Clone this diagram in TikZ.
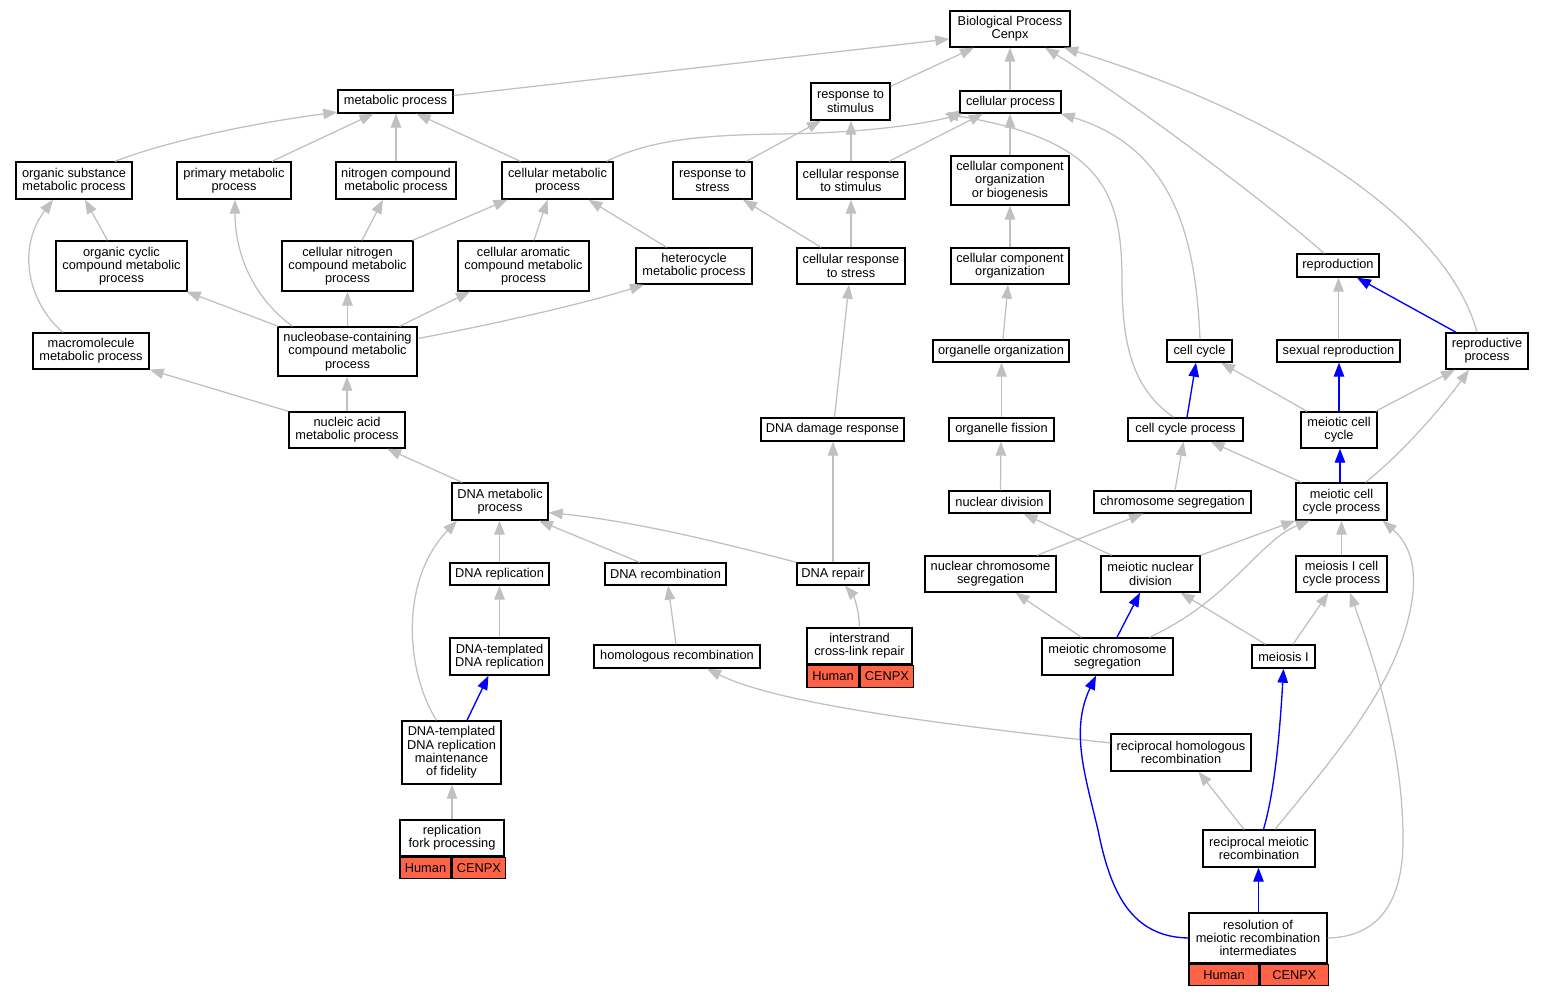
\documentclass[tikz,border=0pt]{standalone}
\usepackage{fontspec}
\setmainfont{Liberation Sans}
\usetikzlibrary{arrows.meta}
\definecolor{edgegray}{RGB}{192,192,192}
\definecolor{genered}{RGB}{255,99,71}
\definecolor{edgeblue}{RGB}{0,0,255}
\newcommand{\gofont}{\fontsize{12.8pt}{13.3pt}\selectfont}
\begin{document}
\begin{tikzpicture}[x=1pt,y=-1pt,
  box/.style={draw=black, line width=1.4pt, fill=white, inner sep=0pt, align=center, font=\gofont},
  cell/.style={box, fill=genered},
  ge/.style={draw=edgegray, line width=1.25pt, -{Triangle[length=14pt,width=10.5pt]}},
  be/.style={draw=edgeblue, line width=1.35pt, -{Triangle[length=14pt,width=10.5pt]}}
]
\fill[white] (0,0) rectangle (1543,995);
\useasboundingbox (0,0) rectangle (1543,995);

% nodes
\node[box,minimum width=120pt,minimum height=36pt] (BP) at (1010,29) {Biological Process\\Cenpx};
\node[box,minimum width=115pt,minimum height=23pt] (metab) at (395.5,101.5) {metabolic process};
\node[box,minimum width=79pt,minimum height=37pt] (respstim) at (850.5,101.5) {response to\\stimulus};
\node[box,minimum width=101pt,minimum height=22pt] (cellproc) at (1010.5,102) {cellular process};
\node[box,minimum width=116pt,minimum height=37pt] (orgsub) at (74,180.5) {organic substance\\metabolic process};
\node[box,minimum width=114pt,minimum height=37pt] (primary) at (234,180.5) {primary metabolic\\process};
\node[box,minimum width=120pt,minimum height=37pt] (nitro) at (396,180.5) {nitrogen compound\\metabolic process};
\node[box,minimum width=111pt,minimum height=37pt] (cellmet) at (557.5,180.5) {cellular metabolic\\process};
\node[box,minimum width=79pt,minimum height=37pt] (respstress) at (712.5,180.5) {response to\\stress};
\node[box,minimum width=108pt,minimum height=37pt] (crstim) at (851,180.5) {cellular response\\to stimulus};
\node[box,minimum width=118pt,minimum height=49pt] (ccob) at (1010,180.5) {cellular component\\organization\\or biogenesis};
\node[box,minimum width=131pt,minimum height=50pt] (orgcyc) at (121.5,266) {organic cyclic\\compound metabolic\\process};
\node[box,minimum width=131pt,minimum height=50pt] (cellnit) at (347.5,266) {cellular nitrogen\\compound metabolic\\process};
\node[box,minimum width=131pt,minimum height=50pt] (cellarom) at (523.5,266) {cellular aromatic\\compound metabolic\\process};
\node[box,minimum width=116pt,minimum height=36pt] (hetero) at (694,266) {heterocycle\\metabolic process};
\node[box,minimum width=108pt,minimum height=36pt] (crstress) at (851,266) {cellular response\\to stress};
\node[box,minimum width=118pt,minimum height=36pt] (cco) at (1010,266) {cellular component\\organization};
\node[box,minimum width=82pt,minimum height=23pt] (repro) at (1338,265.5) {reproduction};
\node[box,minimum width=116pt,minimum height=36pt] (macro) at (91,351) {macromolecule\\metabolic process};
\node[box,minimum width=139pt,minimum height=49pt] (nucbase) at (347.5,351.5) {nucleobase-containing\\compound metabolic\\process};
\node[box,minimum width=136pt,minimum height=22pt] (orgorg) at (1001,351) {organelle organization};
\node[box,minimum width=65pt,minimum height=22pt] (cellcyc) at (1199.5,351) {cell cycle};
\node[box,minimum width=123pt,minimum height=22pt] (sexrep) at (1338.5,351) {sexual reproduction};
\node[box,minimum width=82pt,minimum height=36pt] (reprod) at (1487,351) {reproductive\\process};
\node[box,minimum width=116pt,minimum height=36pt] (nucacid) at (347,430) {nucleic acid\\metabolic process};
\node[box,minimum width=143pt,minimum height=23pt] (dnadmg) at (832.5,429.5) {DNA damage response};
\node[box,minimum width=105pt,minimum height=23pt] (orgfis) at (1001.5,429.5) {organelle fission};
\node[box,minimum width=115pt,minimum height=23pt] (ccp) at (1185.5,429.5) {cell cycle process};
\node[box,minimum width=76pt,minimum height=36pt] (mcc) at (1339,430) {meiotic cell\\cycle};
\node[box,minimum width=96pt,minimum height=37pt] (dnamet) at (500,501.5) {DNA metabolic\\process};
\node[box,minimum width=101pt,minimum height=22pt] (nucdiv) at (999.5,502) {nuclear division};
\node[box,minimum width=157pt,minimum height=22pt] (chromseg) at (1172.5,502) {chromosome segregation};
\node[box,minimum width=91pt,minimum height=37pt] (mccp) at (1341.5,501.5) {meiotic cell\\cycle process};
\node[box,minimum width=99pt,minimum height=22pt] (dnarep) at (499.5,574) {DNA replication};
\node[box,minimum width=121pt,minimum height=22pt] (dnarec) at (665.5,574) {DNA recombination};
\node[box,minimum width=72pt,minimum height=22pt] (dnarepair) at (833,574) {DNA repair};
\node[box,minimum width=131pt,minimum height=36pt] (ncs) at (990.5,574) {nuclear chromosome\\segregation};
\node[box,minimum width=99pt,minimum height=36pt] (mnd) at (1150.5,574) {meiotic nuclear\\division};
\node[box,minimum width=91pt,minimum height=36pt] (miccp) at (1341.5,574) {meiosis I cell\\cycle process};
\node[box,minimum width=99pt,minimum height=37pt] (dtdr) at (499.5,656.5) {DNA-templated\\DNA replication};
\node[box,minimum width=166pt,minimum height=23pt] (homrec) at (677,656.5) {homologous recombination};
\node[box,minimum width=105pt,minimum height=36pt] (icl) at (859.5,646) {interstrand\\cross-link repair};
\node[cell,minimum width=52pt,minimum height=22pt,anchor=north west] (iclH) at (icl.south west) {Human};
\node[cell,minimum width=53pt,minimum height=22pt,anchor=north west] (iclC) at (iclH.north east) {CENPX};
\node[box,minimum width=131pt,minimum height=37pt] (mcs) at (1107.5,656.5) {meiotic chromosome\\segregation};
\node[box,minimum width=63pt,minimum height=23pt] (meiI) at (1283.5,656.5) {meiosis I};
\node[box,minimum width=99pt,minimum height=63pt] (dtdrmf) at (451.5,752.5) {DNA-templated\\DNA replication\\maintenance\\of fidelity};
\node[box,minimum width=140pt,minimum height=37pt] (rhr) at (1181,752.5) {reciprocal homologous\\recombination};
\node[box,minimum width=104pt,minimum height=36pt] (rfp) at (452,838) {replication\\fork processing};
\node[cell,minimum width=51pt,minimum height=21pt,anchor=north west] (rfpH) at (rfp.south west) {Human};
\node[cell,minimum width=53pt,minimum height=21pt,anchor=north west] (rfpC) at (rfpH.north east) {CENPX};
\node[box,minimum width=112pt,minimum height=37pt] (rmr) at (1259,848.5) {reciprocal meiotic\\recombination};
\node[box,minimum width=138pt,minimum height=50pt] (res) at (1258,938) {resolution of\\meiotic recombination\\intermediates};
\node[cell,minimum width=70pt,minimum height=21pt,anchor=north west] (resH) at (res.south west) {Human};
\node[cell,minimum width=68pt,minimum height=21pt,anchor=north west] (resC) at (resH.north east) {CENPX};

% edges
\draw[ge] ([yshift=6pt]metab.east) -- ([yshift=-10pt]BP.west);
\draw[ge] ([yshift=-4pt]respstim.north east) -- ([xshift=-36pt]BP.south);
\draw[ge] ([xshift=-0.5pt]cellproc.north) -- (BP.south);
\draw[ge] ([xshift=-14pt]repro.north) .. controls (1270,205) and (1130,100) .. ([xshift=35pt]BP.south);
\draw[ge] ([xshift=-10pt]reprod.north) .. controls (1450,230) and (1300,120) .. ([xshift=54pt]BP.south);
\draw[ge] ([xshift=41pt]orgsub.north) .. controls (170,140) and (260,122) .. ([yshift=1.5pt]metab.south west);
\draw[ge] ([xshift=38pt]primary.north) -- ([xshift=-22pt]metab.south);
\draw[ge] (nitro.north) -- ([xshift=0.5pt]metab.south);
\draw[ge] ([xshift=-37pt]cellmet.north) -- ([xshift=21pt]metab.south);
\draw[ge] ([xshift=49pt]cellmet.north) .. controls (650,140) and (700,135) .. (780,134) .. controls (860,133) and (920,125) .. ([xshift=-48pt]cellproc.south);
\draw[ge] ([xshift=34pt]respstress.north) -- ([xshift=-29.5pt]respstim.south);
\draw[ge] (crstim.north) -- ([xshift=0.5pt]respstim.south);
\draw[ge] ([xshift=38pt]crstim.north) -- ([xshift=-27.5pt]cellproc.south);
\draw[ge] (ccob.north) -- ([xshift=-0.5pt]cellproc.south);
\draw[ge] ([xshift=-12pt]ccp.north) .. controls (1135,390) and (1122,350) .. (1122,280) .. controls (1122,190) and (1100,140) .. ([xshift=-66pt]cellproc.south);
\draw[ge] ([xshift=0.5pt]cellcyc.north) .. controls (1196,250) and (1180,150) .. ([xshift=-1pt]cellproc.south east);
\draw[ge] ([xshift=-14pt]orgcyc.north) -- ([xshift=11pt]orgsub.south);
\draw[ge] ([xshift=-28pt]macro.north) .. controls (30,305) and (15,250) .. ([xshift=-21pt]orgsub.south);
\draw[ge] ([xshift=-55pt]nucbase.north) .. controls (250,295) and (235,250) .. ([xshift=1pt]primary.south);
\draw[ge] ([xshift=14.5pt]cellnit.north) -- ([xshift=-13pt]nitro.south);
\draw[ge] ([xshift=-1pt]cellnit.north east) -- ([xshift=-50pt]cellmet.south);
\draw[ge] ([xshift=10.5pt]cellarom.north) -- ([xshift=-10pt]cellmet.south);
\draw[ge] ([xshift=-27.5pt]hetero.north) -- ([xshift=31pt]cellmet.south);
\draw[ge] ([xshift=-30pt]crstress.north) -- ([xshift=30.5pt]respstress.south);
\draw[ge] (crstress.north) -- (crstim.south);
\draw[ge] (cco.north) -- (ccob.south);
\draw[ge] ([xshift=1pt]nucbase.north west) -- ([xshift=-1pt]orgcyc.south east);
\draw[ge] (nucbase.north) -- (cellnit.south);
\draw[ge] ([xshift=52pt]nucbase.north) -- ([xshift=-53.5pt]cellarom.south);
\draw[ge] ([yshift=13pt]nucbase.east) .. controls (480,327) and (580,305) .. ([xshift=-50pt]hetero.south);
\draw[ge] ([xshift=2pt]orgorg.north) -- ([xshift=-2pt]cco.south);
\draw[ge] (sexrep.north) -- ([xshift=0.5pt]repro.south);
\draw[be] ([xshift=-31pt]reprod.north) -- ([xshift=19pt]repro.south);
\draw[ge] (nucacid.north) -- ([xshift=-0.5pt]nucbase.south);
\draw[ge] (nucacid.north west) -- (macro.south east);
\draw[ge] ([xshift=2pt]dnadmg.north) -- ([xshift=-2pt]crstress.south);
\draw[ge] (orgfis.north) -- ([xshift=0.5pt]orgorg.south);
\draw[be] ([xshift=1.5pt]ccp.north) -- ([xshift=-3.5pt]cellcyc.south);
\draw[ge] ([xshift=-32pt]mcc.north) -- ([xshift=21.5pt]cellcyc.south);
\draw[be] (mcc.north) -- ([xshift=0.5pt]sexrep.south);
\draw[ge] ([xshift=-2pt]mcc.north east) -- ([xshift=-32pt]reprod.south);
\draw[ge] ([xshift=-38pt]dnamet.north) -- ([xshift=40pt]nucacid.south);
\draw[ge] ([xshift=1pt]nucdiv.north) -- ([xshift=-0.5pt]orgfis.south);
\draw[ge] ([xshift=2.5pt]chromseg.north) -- ([xshift=-2pt]ccp.south);
\draw[ge] ([xshift=-40pt]mccp.north) -- ([xshift=25pt]ccp.south);
\draw[be] ([xshift=-1.5pt]mccp.north) -- ([xshift=1pt]mcc.south);
\draw[ge] ([xshift=24pt]mccp.north) .. controls (1400,455) and (1440,410) .. ([xshift=-18pt]reprod.south);
\draw[ge] (dnarep.north) -- ([xshift=-0.5pt]dnamet.south);
\draw[ge] ([xshift=-26pt]dnarec.north) -- ([xshift=39pt]dnamet.south);
\draw[ge] (dnarepair.north west) .. controls (730,545) and (640,522) .. ([yshift=-11pt]dnamet.east);
\draw[ge] (dnarepair.north) -- ([xshift=0.5pt]dnadmg.south);
\draw[ge] ([xshift=46.5pt]ncs.north) -- ([xshift=-29.5pt]chromseg.south);
\draw[ge] ([xshift=-39pt]mnd.north) -- ([xshift=24pt]nucdiv.south);
\draw[ge] (mnd.north east) -- (mccp.south west);
\draw[ge] (miccp.north) -- (mccp.south);
\draw[ge] (dtdr.north) -- (dnarep.south);
\draw[ge] ([xshift=-1pt]homrec.north) -- ([xshift=2.5pt]dnarec.south);
\draw[ge] (icl.north) .. controls (859,608) and (853,595) .. ([xshift=12pt]dnarepair.south);
\draw[ge] ([xshift=-26pt]mcs.north) -- ([xshift=25pt]ncs.south);
\draw[be] ([xshift=9.5pt]mcs.north) -- ([xshift=-10.5pt]mnd.south);
\draw[ge] ([xshift=42pt]mcs.north) .. controls (1230,600) and (1260,540) .. ([xshift=-31.5pt]mccp.south);
\draw[ge] ([xshift=-18pt]meiI.north) -- ([xshift=30pt]mnd.south);
\draw[ge] ([xshift=9.5pt]meiI.north) -- ([xshift=-13pt]miccp.south);
\draw[be] ([xshift=15.5pt]dtdrmf.north) -- ([xshift=-11pt]dtdr.south);
\draw[ge] ([xshift=-15pt]dtdrmf.north) .. controls (405,670) and (400,580) .. ([xshift=-43pt]dnamet.south);
\draw[ge] ([yshift=9.5pt]rhr.west) .. controls (950,725) and (780,705) .. ([xshift=30pt]homrec.south);
\draw[ge] (rfp.north) -- ([xshift=0.5pt]dtdrmf.south);
\draw[ge] ([xshift=-15pt]rmr.north) -- ([xshift=17.5pt]rhr.south);
\draw[be] ([xshift=4.5pt]rmr.north) .. controls (1275,790) and (1280,730) .. (meiI.south);
\draw[ge] ([xshift=16pt]rmr.north) .. controls (1340,750) and (1400,680) .. (1412,600) .. controls (1418,560) and (1405,540) .. ([xshift=-5pt]mccp.south east);
\draw[be] ([xshift=0.5pt]res.north) -- ([xshift=-0.5pt]rmr.south);
\draw[be] (res.west) .. controls (1130,937) and (1110,890) .. (1098,830) .. controls (1085,775) and (1070,730) .. ([xshift=-11.5pt]mcs.south);
\draw[ge] (res.east) .. controls (1380,937) and (1403,900) .. (1403,840) .. controls (1403,740) and (1370,650) .. ([xshift=8.5pt]miccp.south);
\end{tikzpicture}
\end{document}
